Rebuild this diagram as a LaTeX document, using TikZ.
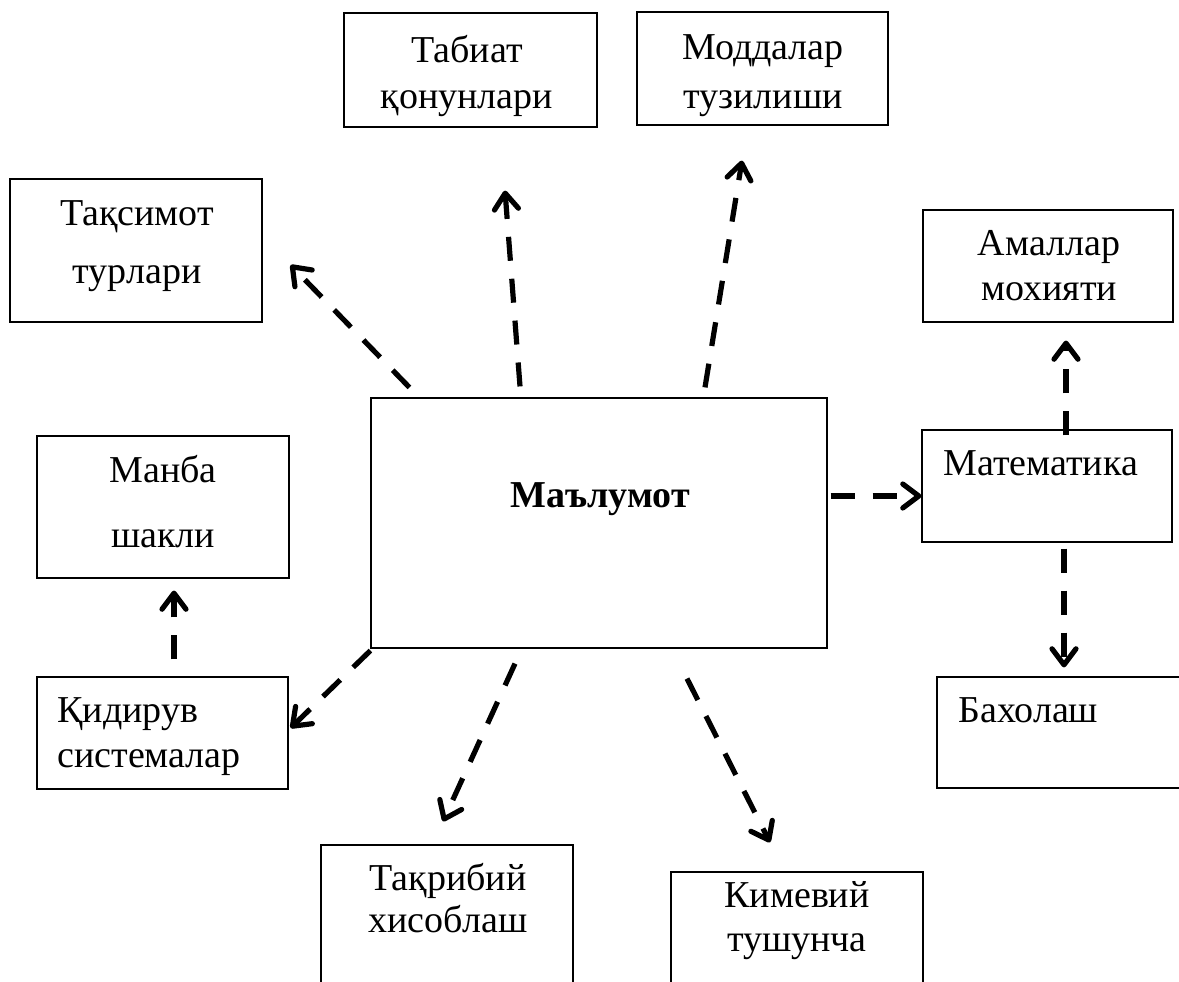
\documentclass[tikz,border=0pt]{standalone}
\usepackage{fontspec}
\setmainfont{Liberation Serif}
\usetikzlibrary{arrows.meta,calc}
\tikzset{
  box/.style={draw=black, line width=0.6pt, rectangle, inner sep=0pt},
  txt/.style={inner sep=0pt, font=\fontsize{19}{22}\selectfont},
  arr/.style={line width=2.6pt, dash pattern=on 12pt off 9pt, -{Straight Barb[length=8pt,width=12pt,round]}},
}
\begin{document}
\begin{tikzpicture}[x=0.5pt,y=-0.5pt]
\clip (0,0) rectangle (1179,981);
\fill[white] (0,0) rectangle (1179,981);
% boxes
\node[box, minimum width=126.5pt, minimum height=57pt] (tabiat) at (470.5,70) {};
\node[box, minimum width=125.5pt, minimum height=56.5pt] (modda) at (762.5,68.5) {};
\node[box, minimum width=126pt, minimum height=71.5pt] (taksim) at (136,250.5) {};
\node[box, minimum width=125pt, minimum height=56pt] (amal) at (1048,266) {};
\node[box, minimum width=228pt, minimum height=125pt] (main) at (599,523) {};
\node[box, minimum width=125pt, minimum height=56pt] (math) at (1047,486) {};
\node[box, minimum width=126pt, minimum height=71pt] (manba) at (163,507) {};
\node[box, minimum width=125.5pt, minimum height=56pt] (qidir) at (162.5,733) {};
\node[box, minimum width=126.5pt, minimum height=55.5pt] (baho) at (1063.5,732.5) {};
\node[box, minimum width=126pt, minimum height=77.5pt] (takrib) at (447,922.5) {};
\node[box, minimum width=126pt, minimum height=64pt] (kimyo) at (797,936) {};
% texts
\node[txt, anchor=base] (t1a) at (467,62) {Табиат};
\node[txt, anchor=base] (t1b) at (467,108) {қонунлари};
\node[txt, anchor=base] (t2a) at (763,59) {Моддалар};
\node[txt, anchor=base] (t2b) at (763,108) {тузилиши};
\node[txt, anchor=base] (t3a) at (137,225) {Тақсимот};
\node[txt, anchor=base] (t3b) at (137,283) {турлари};
\node[txt, anchor=base] (t4a) at (1049,255) {Амаллар};
\node[txt, anchor=base] (t4b) at (1049,300) {мохияти};
\node[txt, anchor=base west] (t5) at (943,475) {Математика};
\node[txt, anchor=base, font=\fontsize{19}{22}\selectfont\bfseries] (t6) at (600,507) {Маълумот};
\node[txt, anchor=base] (t7a) at (163,482) {Манба};
\node[txt, anchor=base] (t7b) at (163,547) {шакли};
\node[txt, anchor=base west] (t8a) at (57,722) {Қидирув};
\node[txt, anchor=base west] (t8b) at (57,767) {системалар};
\node[txt, anchor=base west] (t9) at (958,722) {Бахолаш};
\node[txt, anchor=base] (t10a) at (448,890) {Тақрибий};
\node[txt, anchor=base] (t10b) at (448,932) {хисоблаш};
\node[txt, anchor=base] (t11a) at (797,907) {Кимевий};
\node[txt, anchor=base] (t11b) at (797,951) {тушунча};
% arrows
\draw[arr] ($(main.north west)+(39,-10)$) -- ($(taksim.east)+(28,14.5)$);
\draw[arr] ($(main.north)+(-79,-11)$) -- ($(tabiat.south)+(34.5,63)$);
\draw[arr] ($(main.north)+(106,-10)$) -- ($(modda.south)+(-20.5,35)$);
\draw[arr] ($(main.east)+(3,-27)$) -- ($(math.west)+(0,10)$);
\draw[arr] ($(math.north)+(19,6)$) -- ($(amal.south)+(18,18)$);
\draw[arr] ($(math.south)+(17,6)$) -- ($(baho.north)+(0.5,-9)$);
\draw[arr] ($(qidir.north)+(11.5,-17)$) -- ($(manba.south)+(11,12)$);
\draw[arr] ($(main.south west)+(0,2)$) -- ($(qidir.east)+(2,-5)$);
\draw[arr] ($(main.south)+(-84,15)$) -- ($(takrib.north)+(-4,-23)$);
\draw[arr] ($(main.south)+(88,30)$) -- ($(kimyo.north)+(-27,-29)$);
\end{tikzpicture}
\end{document}
